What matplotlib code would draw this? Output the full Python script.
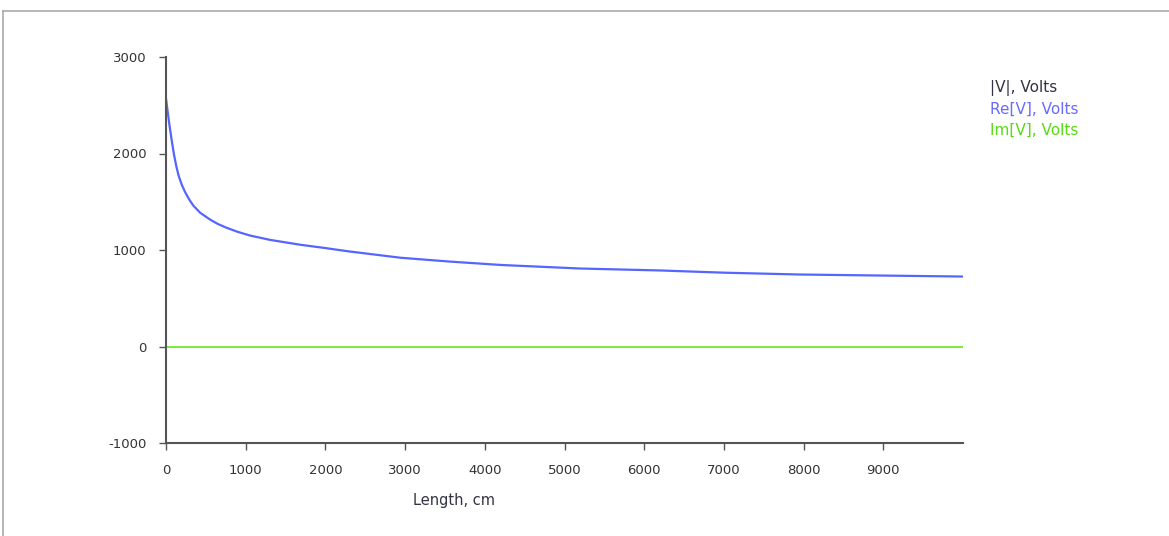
import matplotlib.pyplot as plt
from matplotlib.lines import Line2D

plt.rcParams['axes.unicode_minus'] = False

# values
length_cm = [0, 20, 45, 71, 100, 130, 160, 200, 238, 290, 343, 430, 552, 650,
             761, 900, 1054, 1305, 1680, 2000, 2300, 2940, 3560, 4200, 5200,
             6200, 7000, 7950, 9000, 10000]
re_v = [2570, 2440, 2285, 2140, 1990, 1865, 1765, 1672, 1603, 1525, 1460,
        1385, 1316, 1270, 1230, 1188, 1150, 1105, 1055, 1020, 985, 920, 880,
        845, 808, 788, 765, 746, 735, 725]
im_v = [0] * len(length_cm)

x_ticks = [0, 1000, 2000, 3000, 4000, 5000, 6000, 7000, 8000, 9000]
y_ticks = [-1000, 0, 1000, 2000, 3000]
legend_labels = ["|V|, Volts", "Re[V], Volts", "Im[V], Volts"]
legend_colors = ["#333344", "#6a6aff", "#55dd11"]

fig = plt.figure(figsize=(11.69, 5.36), dpi=100)
ax = fig.add_axes([166 / 1169, 1 - 443 / 536, (963 - 166) / 1169, (443 - 57) / 536])

ax.plot(length_cm, re_v, color="#5565ff", lw=1.6)
ax.plot(length_cm, im_v, color="#77ee33", lw=1.4)

ax.set_xlim(0, 10000)
ax.set_ylim(-1000, 3000)
ax.set_xticks(x_ticks)
ax.set_yticks(y_ticks)
ax.tick_params(direction="out", length=5, width=1, color="#555555",
               labelsize=9.5, labelcolor="#333333")
ax.tick_params(axis="x", pad=10)
ax.tick_params(axis="y", pad=9)
for side in ["top", "right"]:
    ax.spines[side].set_visible(False)
for side in ["left", "bottom"]:
    ax.spines[side].set_color("#555555")
    ax.spines[side].set_linewidth(1.5)

fig.text(454 / 1169, 1 - 500 / 536, "Length, cm", ha="center", va="center",
         fontsize=10.5, color="#333344")

for i, (lab, col) in enumerate(zip(legend_labels, legend_colors)):
    fig.text(990 / 1169, 1 - (88 + 21 * i) / 536, lab, ha="left", va="center",
             fontsize=11, color=col)

# grey frame at top and left of the image
fig.add_artist(Line2D([3 / 1169, 1], [1 - 11 / 536, 1 - 11 / 536], color="#aaaaaa", lw=1.2))
fig.add_artist(Line2D([3 / 1169, 3 / 1169], [0, 1 - 11 / 536], color="#aaaaaa", lw=1.2))

fig.savefig("out.png", dpi=100)
